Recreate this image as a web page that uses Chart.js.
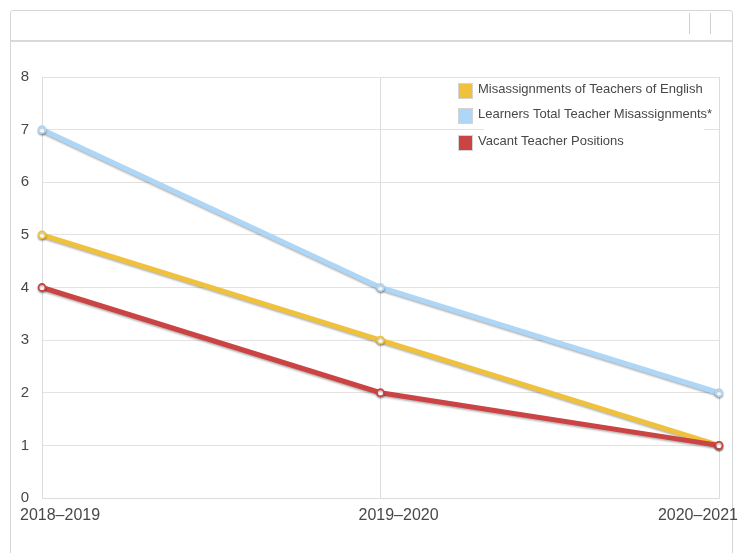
<!DOCTYPE html>
<html>
<head>
<meta charset="utf-8">
<script src="https://cdn.jsdelivr.net/npm/chart.js@4/dist/chart.umd.min.js"></script>
<style>
  html, body { margin: 0; padding: 0; background: #fff; }
  body { width: 742px; height: 553px; position: relative; overflow: hidden; font-family: "Liberation Sans", Arial, sans-serif; }
  .frame { position: absolute; left: 10px; top: 10px; width: 723px; height: 560px; border: 1px solid #d6d6d6; border-radius: 3px 3px 0 0; box-sizing: border-box; }
  .header { position: absolute; left: 0; top: 0; right: 0; height: 29px; border-bottom: 2px solid #d9d9d9; }
  .tick { position: absolute; top: 2px; width: 1px; height: 21px; background: #d0d0d0; }
  #wrap { position: absolute; left: 0; top: 0; width: 742px; height: 553px; }
</style>
</head>
<body>
<div class="frame">
  <div class="header">
    <div class="tick" style="left:678px"></div>
    <div class="tick" style="left:699px"></div>
  </div>
</div>
<div id="wrap"><canvas id="chart" width="742" height="553"></canvas></div>
<script>
// School years on the x axis
const years = ['2018–2019', '2019–2020', '2020–2021'];

// Series values
const englishMisassignments = [5, 3, 1];
const learnersMisassignments = [7, 4, 2];
const vacantPositions = [4, 2, 1];

// Series names
const seriesNames = [
  'Misassignments of Teachers of English',
  'Learners Total Teacher Misassignments*',
  'Vacant Teacher Positions'
];

const colors = ['#f0c23c', '#aed6f7', '#cb4443'];
const textColor = '#484848';

function series(label, data, color, order) {
  return {
    label, data, order,
    borderColor: color,
    backgroundColor: '#ffffff',
    borderWidth: 5,
    pointRadius: 3.5,
    pointHoverRadius: 3.5,
    pointBorderWidth: 1.8,
    pointBorderColor: color,
    pointBackgroundColor: '#ffffff',
    tension: 0,
    fill: false
  };
}

// Soft drop shadow under the lines
const lineShadow = {
  id: 'lineShadow',
  beforeDatasetsDraw(chart) {
    const ctx = chart.ctx;
    ctx.save();
    ctx.shadowColor = 'rgba(0,0,0,0.3)';
    ctx.shadowBlur = 2;
    ctx.shadowOffsetX = 0;
    ctx.shadowOffsetY = 1.5;
  },
  afterDatasetsDraw(chart) {
    chart.ctx.restore();
  }
};

// Category labels under the plot, kept inside the canvas
const yearLabels = {
  id: 'yearLabels',
  afterDraw(chart) {
    const ctx = chart.ctx;
    const xs = chart.scales.x;
    ctx.save();
    ctx.font = '16px "Liberation Sans", Arial, sans-serif';
    ctx.fillStyle = textColor;
    ctx.textBaseline = 'middle';
    ctx.textAlign = 'left';
    years.forEach((label, i) => {
      const w = ctx.measureText(label).width;
      let x = xs.getPixelForValue(i) - 22;
      if (x + w > 738) x = 738 - w;
      ctx.fillText(label, x, chart.chartArea.bottom + 18);
    });
    ctx.restore();
  }
};

// Legend box in the upper right of the plot
const boxLegend = {
  id: 'boxLegend',
  afterDraw(chart) {
    const ctx = chart.ctx;
    ctx.save();
    ctx.fillStyle = '#ffffff';
    ctx.fillRect(484, 100, 220, 60);
    ctx.font = '13px "Liberation Sans", Arial, sans-serif';
    ctx.textBaseline = 'middle';
    ctx.textAlign = 'left';
    const rows = [91, 116, 143];
    chart.data.datasets.forEach((ds, i) => {
      const y = rows[i];
      ctx.fillStyle = ds.borderColor;
      ctx.fillRect(458.5, y - 7, 14, 14);
      ctx.strokeStyle = '#d4d4d4';
      ctx.lineWidth = 1;
      ctx.strokeRect(458.5, y - 7.5, 14, 15);
      ctx.fillStyle = textColor;
      ctx.fillText(ds.label, 478, y - 2);
    });
    ctx.restore();
  }
};

new Chart(document.getElementById('chart'), {
  type: 'line',
  data: {
    labels: years,
    datasets: [
      series(seriesNames[0], englishMisassignments, colors[0], 1),
      series(seriesNames[1], learnersMisassignments, colors[1], 2),
      series(seriesNames[2], vacantPositions, colors[2], 0)
    ]
  },
  options: {
    responsive: false,
    animation: false,
    devicePixelRatio: 1,
    layout: { padding: { left: 0, right: 23, top: 77, bottom: 55 } },
    plugins: {
      legend: { display: false },
      tooltip: { enabled: false },
      title: { display: false }
    },
    scales: {
      x: {
        offset: false,
        grid: { color: '#dcdcdc', lineWidth: 1, drawTicks: false },
        border: { display: true, color: '#dcdcdc' },
        ticks: { display: false },
        afterFit(s) { s.height = 0; s.paddingLeft = 0; s.paddingRight = 0; }
      },
      y: {
        min: 0,
        max: 8,
        grid: { color: '#e2e2e2', lineWidth: 1, drawTicks: false },
        border: { display: true, color: '#dcdcdc' },
        ticks: {
          stepSize: 1,
          padding: 13,
          color: textColor,
          font: { family: '"Liberation Sans", Arial, sans-serif', size: 15 }
        },
        afterFit(s) { s.width = 42; s.paddingTop = 0; s.paddingBottom = 0; }
      }
    }
  },
  plugins: [lineShadow, yearLabels, boxLegend]
});
</script>
</body>
</html>
